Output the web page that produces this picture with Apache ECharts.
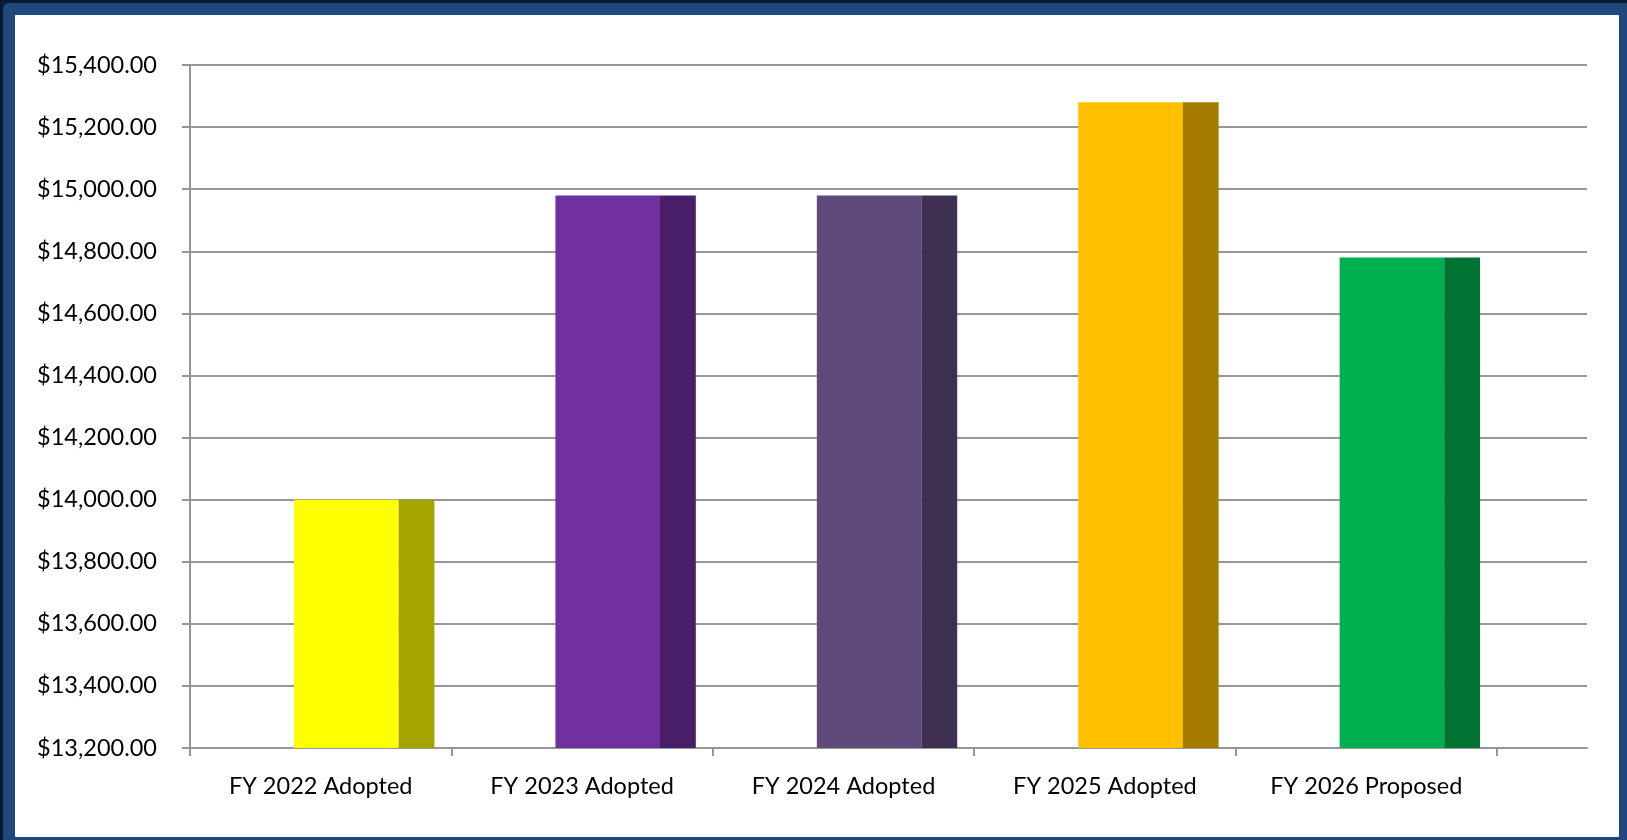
<!DOCTYPE html>
<html>
<head>
<meta charset="utf-8">
<script src="https://cdn.jsdelivr.net/npm/echarts@6/dist/echarts.min.js"></script>
<style>
  html, body { margin: 0; padding: 0; background: #0b1a33; }
  #frame { position: absolute; left: 3px; top: 3px; width: 1624px; height: 837px; background: #1f497d; border-top-left-radius: 6px; }
  #paper { position: absolute; left: 15px; top: 15px; width: 1604px; height: 822px; background: #ffffff; }
  #chart { position: absolute; left: 0; top: 0; width: 1627px; height: 840px; }
</style>
</head>
<body>
<div id="frame"></div>
<div id="paper"></div>
<div id="chart"></div>
<script>
    // budget by fiscal year
    var categories = ['FY 2022 Adopted', 'FY 2023 Adopted', 'FY 2024 Adopted', 'FY 2025 Adopted', 'FY 2026 Proposed'];
    var values = [14000, 14980, 14980, 15280, 14780];
    var frontColors = ['#ffff00', '#7030a0', '#604a7b', '#ffc000', '#00b050'];
    var sideColors = ['#a5a500', '#481f68', '#3e3050', '#a67c00', '#007232'];
    var yMin = 13200, yMax = 15400, yStep = 200;

    var gridColor = '#979797';
    var chart = echarts.init(document.getElementById('chart'));

    function money(v) {
        return '$' + v.toLocaleString('en-US', { minimumFractionDigits: 2, maximumFractionDigits: 2 });
    }

    const option = {
        animation: false,
        textStyle: { fontFamily: 'Lato', color: '#000' },
        grid: [
            { left: 190, right: 40, top: 65, bottom: 92 },
            { left: 190, width: 1307, top: 65, bottom: 92 }
        ],
        xAxis: [
            {
                gridIndex: 0, type: 'value', min: 0, max: 1,
                axisLine: { show: true, lineStyle: { color: gridColor, width: 2 } },
                axisTick: { show: false }, axisLabel: { show: false }, splitLine: { show: false }
            },
            {
                gridIndex: 1, type: 'category', data: categories,
                axisLine: { show: false },
                axisTick: { show: true, inside: false, length: 8, alignWithLabel: false, lineStyle: { color: gridColor, width: 2 } },
                axisLabel: { fontSize: 23.5, color: '#000', margin: 26, fontFamily: 'Lato' }
            }
        ],
        yAxis: [
            {
                gridIndex: 0, type: 'value', min: yMin, max: yMax, interval: yStep,
                axisLine: { show: true, lineStyle: { color: gridColor, width: 2 } },
                axisTick: { show: true, length: 8, lineStyle: { color: gridColor, width: 2 } },
                splitLine: { show: true, lineStyle: { color: gridColor, width: 2 } },
                axisLabel: { fontSize: 23.5, color: '#000', margin: 33, fontFamily: 'Lato', formatter: money }
            },
            {
                gridIndex: 1, type: 'value', min: yMin, max: yMax, interval: yStep,
                show: false
            }
        ],
        series: [
            {
                type: 'custom',
                xAxisIndex: 1, yAxisIndex: 1,
                data: values.map(function (v, i) { return [i, v]; }),
                renderItem: function (params, api) {
                    var i = api.value(0);
                    var top = api.coord([i, api.value(1)]);
                    var base = api.coord([i, yMin]);
                    var w = api.size([1, 0])[0];
                    var x0 = top[0] - 0.102 * w;
                    var fw = 0.40 * w;
                    var sw = 0.137 * w;
                    var h = base[1] - top[1];
                    return {
                        type: 'group',
                        children: [
                            {
                                type: 'rect',
                                shape: { x: x0, y: top[1], width: fw, height: h },
                                style: { fill: frontColors[i] }
                            },
                            {
                                type: 'rect',
                                shape: { x: x0 + fw, y: top[1], width: sw, height: h },
                                style: { fill: sideColors[i] }
                            }
                        ]
                    };
                }
            }
        ]
    };
    chart.setOption(option);
</script>
</body>
</html>
